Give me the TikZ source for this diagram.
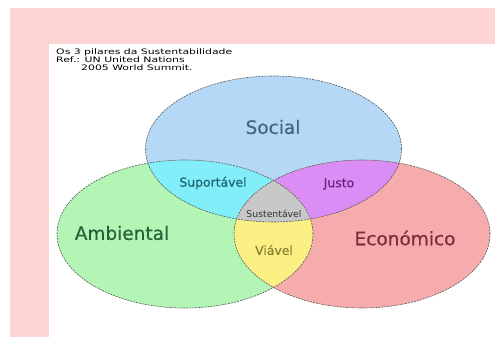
\documentclass[tikz,border=0pt]{standalone}
\usepackage{fontspec}
\setmainfont{DejaVu Sans}
\usepackage{graphicx}

\definecolor{fundo}{RGB}{255,212,212}
\definecolor{corSocial}{RGB}{181,216,247}
\definecolor{corAmb}{RGB}{178,245,180}
\definecolor{corEco}{RGB}{246,172,172}
\definecolor{corSup}{RGB}{130,238,250}
\definecolor{corJusto}{RGB}{218,142,245}
\definecolor{corViavel}{RGB}{250,240,132}
\definecolor{corSust}{RGB}{200,200,200}
\definecolor{txtSocial}{RGB}{72,100,128}
\definecolor{txtAmb}{RGB}{42,96,56}
\definecolor{txtEco}{RGB}{122,46,62}
\definecolor{txtSup}{RGB}{32,100,112}
\definecolor{txtJusto}{RGB}{100,32,122}
\definecolor{txtViavel}{RGB}{140,126,52}

\def\pSocial{(273.5,188) ellipse [x radius=128, y radius=73]}
\def\pAmb{(185,103) ellipse [x radius=128, y radius=74]}
\def\pEco{(362,103) ellipse [x radius=128, y radius=74]}

\begin{document}
\begin{tikzpicture}[x=1pt,y=1pt]
   \tikzstyle{every node}=[inner sep=0pt]
   \tikzstyle{borda}=[draw=black!65, dash pattern=on 2pt off 1pt, line width=0.6pt]
   \tikzstyle{grande}=[font=\fontsize{18.5}{20}\selectfont\addfontfeature{FakeBold=0.4}]
   \tikzstyle{medio}=[font=\fontsize{12.4}{14}\selectfont\addfontfeature{FakeBold=0.3}]

\useasboundingbox (0,0) rectangle (495,337);
\fill[fundo] (10,0) rectangle (495,329);
\fill[white] (49,0) rectangle (495,293);

% circulos
\fill[corSocial] \pSocial;
\fill[corAmb] \pAmb;
\fill[corEco] \pEco;
\begin{scope}
    \clip \pSocial;
    \fill[corSup] \pAmb;
    \fill[corJusto] \pEco;
\end{scope}
\begin{scope}
    \clip \pAmb;
    \fill[corViavel] \pEco;
    \clip \pEco;
    \fill[corSust] \pSocial;
\end{scope}
\draw[borda] \pSocial;
\draw[borda] \pAmb;
\draw[borda] \pEco;

\node[anchor=north west, align=left, font=\fontsize{7.5}{7.6}\selectfont] (titulo) at (56,288)
    {\scalebox{1.45}[1]{Os 3 pilares da Sustentabilidade}\\
     \scalebox{1.45}[1]{Ref.: UN United Nations}\\
     \hspace*{25pt}\scalebox{1.45}[1]{2005 World Summit.}};

\node[grande, text=txtSocial] (social) at (273,210) {Social};
\node[grande, text=txtAmb] (ambiental) at (122,104) {Ambiental};
\node[grande, text=txtEco] (economico) at (405,99) {Económico};
\node[medio, text=txtSup] (suportavel) at (213,154) {Suportável};
\node[medio, text=txtJusto] (justo) at (339,153) {Justo};
\node[font=\fontsize{9.3}{10}\selectfont, text=black!80] (sustentavel) at (274,123) {Sustentável};
\node[medio, text=txtViavel] (viavel) at (274,87) {Viável};

\end{tikzpicture}
\end{document}
